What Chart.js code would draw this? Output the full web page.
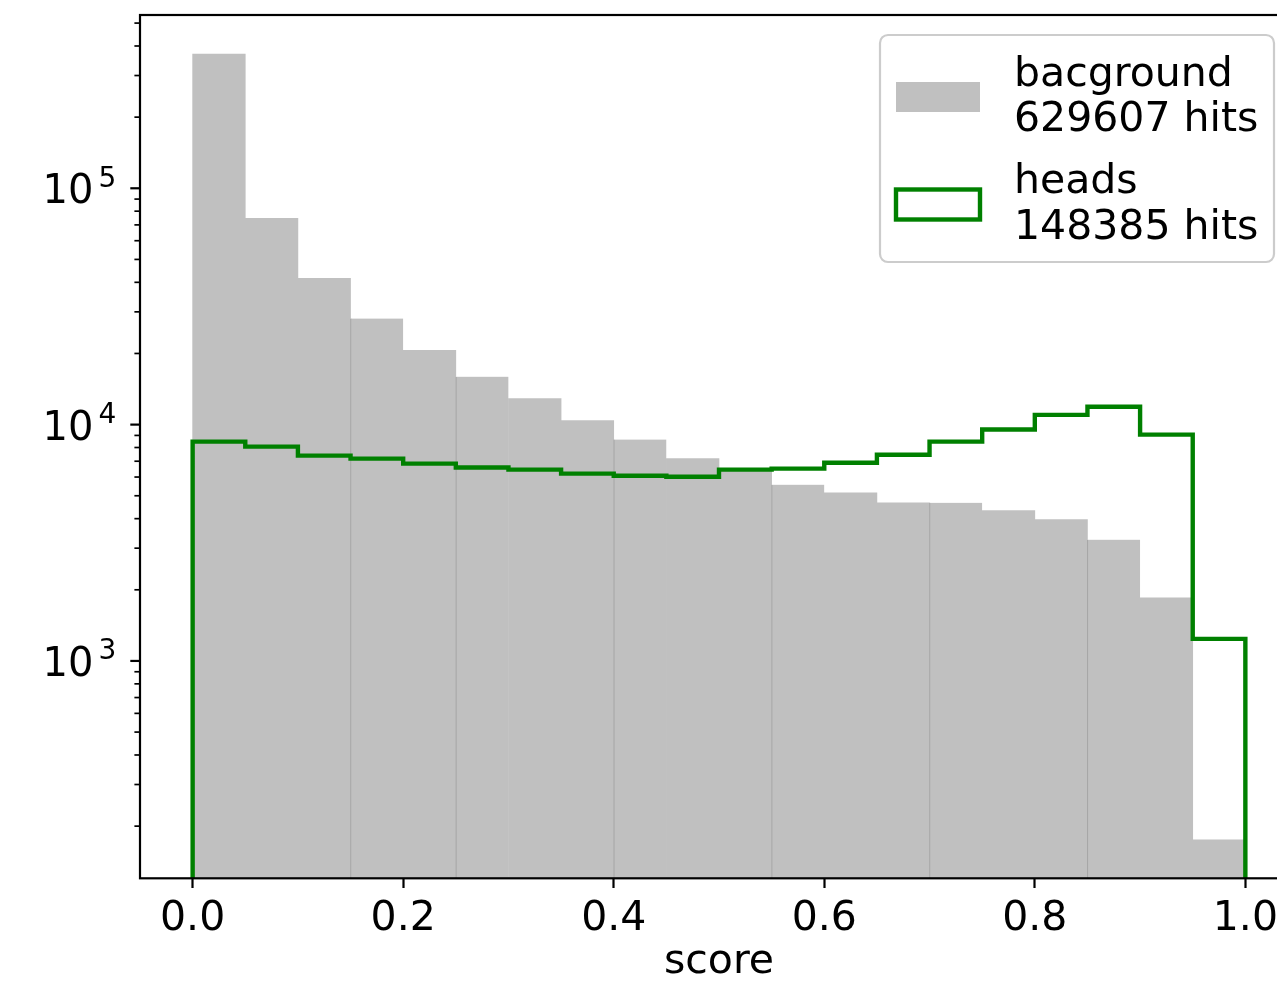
<!DOCTYPE html>
<html>
<head>
<meta charset="utf-8">
<title>score histogram</title>
<script src="https://cdn.jsdelivr.net/npm/chart.js@4.4.1/dist/chart.umd.min.js"></script>
<style>
  html, body { margin: 0; padding: 0; overflow: hidden; background: #ffffff; }
  #wrap { width: 1298px; height: 982px; }
</style>
</head>
<body>
<div id="wrap"><canvas id="chart" width="1298" height="982"></canvas></div>
<script>
// Histogram bins (score), 20 bins of width 0.05
const BIN_EDGES = [0.00, 0.05, 0.10, 0.15, 0.20, 0.25, 0.30, 0.35, 0.40, 0.45, 0.50,
                   0.55, 0.60, 0.65, 0.70, 0.75, 0.80, 0.85, 0.90, 0.95, 1.00];

// Counts per bin
const BACKGROUND = [370000, 74700, 41600, 28100, 20600, 15950, 12880, 10400, 8640, 7180,
                    6380, 5570, 5150, 4670, 4670, 4330, 3960, 3260, 1850, 175];
const HEADS = [8470, 8070, 7390, 7180, 6840, 6580, 6450, 6200, 6080, 6020,
               6450, 6510, 6900, 7460, 8470, 9530, 11000, 11900, 9070, 1240];

// Axis ticks and ranges
const X_TICKS = [0.0, 0.2, 0.4, 0.6, 0.8, 1.0];
const Y_DECADES = [3, 4, 5];
const X_RANGE = [-0.05, 1.05];
const Y_RANGE = [120.3, 541000];

// Legend entries
const LEGEND_LABELS = [["bacground", "629607 hits"], ["heads", "148385 hits"]];
const X_TITLE = "score";

const FONT = "DejaVu Sans";
const GRAY = "#c0c0c0";
const GREEN = "#008000";

// Bins whose left edge shows a faint seam between neighbouring bars
const SEAM_BINS = [3, 5, 8, 11, 14, 17];

const barPoints = BACKGROUND.map((v, i) => ({ x: (BIN_EDGES[i] + BIN_EDGES[i + 1]) / 2, y: v }));
const barBorders = BACKGROUND.map((v, i) =>
  SEAM_BINS.includes(i) ? { left: 1, right: 0, top: 0, bottom: 0 } : 0);

// Step outline: rise from the floor, flat across every bin, fall back at the end
const stepPoints = [{ x: BIN_EDGES[0], y: Y_RANGE[0] }];
HEADS.forEach((v, i) => {
  stepPoints.push({ x: BIN_EDGES[i], y: v });
  stepPoints.push({ x: BIN_EDGES[i + 1], y: v });
});
stepPoints.push({ x: BIN_EDGES[BIN_EDGES.length - 1], y: Y_RANGE[0] });

const axisDecor = {
  id: "axisDecor",
  afterDatasetsDraw(chart) {
    const ctx = chart.ctx;
    const area = chart.chartArea;
    const ys = chart.scales.y;
    ctx.save();

    // frame
    ctx.strokeStyle = "#000";
    ctx.lineWidth = 2.2;
    ctx.strokeRect(area.left, area.top, area.right - area.left, area.bottom - area.top);

    // log ticks: majors at decades, minors at 2..9 x decade
    const lo = Math.floor(Math.log10(Y_RANGE[0]));
    const hi = Math.ceil(Math.log10(Y_RANGE[1]));
    for (let e = lo; e <= hi; e++) {
      for (let m = 1; m <= 9; m++) {
        const v = m * Math.pow(10, e);
        if (v < Y_RANGE[0] || v > Y_RANGE[1]) continue;
        const py = ys.getPixelForValue(v);
        const major = m === 1;
        ctx.beginPath();
        ctx.lineWidth = major ? 2.2 : 1.7;
        ctx.moveTo(area.left, py);
        ctx.lineTo(area.left - (major ? 9.7 : 5.6), py);
        ctx.stroke();
      }
    }

    // decade labels: 10 with superscript exponent
    ctx.fillStyle = "#000";
    Y_DECADES.forEach(e => {
      const py = ys.getPixelForValue(Math.pow(10, e));
      ctx.font = "40px '" + FONT + "'";
      ctx.textAlign = "right";
      ctx.textBaseline = "alphabetic";
      ctx.fillText("10", 93.5, py + 15);
      ctx.font = "28px '" + FONT + "'";
      ctx.textAlign = "left";
      ctx.fillText(String(e), 98.5, py - 1.6);
    });
    ctx.restore();
  },
  afterDraw(chart) {
    const ctx = chart.ctx;
    ctx.save();
    // legend frame
    ctx.beginPath();
    ctx.roundRect(880, 35, 394, 227, 8);
    ctx.fillStyle = "rgba(255,255,255,0.8)";
    ctx.fill();
    ctx.lineWidth = 2.2;
    ctx.strokeStyle = "#cccccc";
    ctx.stroke();

    // handles
    ctx.fillStyle = GRAY;
    ctx.fillRect(896, 82, 84, 30);
    ctx.lineWidth = 4.4;
    ctx.strokeStyle = GREEN;
    ctx.lineJoin = "miter";
    ctx.strokeRect(896, 189.5, 84, 30);

    // labels
    ctx.fillStyle = "#000";
    ctx.font = "41px '" + FONT + "'";
    ctx.textAlign = "left";
    ctx.textBaseline = "alphabetic";
    const baselines = [[85.5, 131], [193, 238.5]];
    LEGEND_LABELS.forEach((lines, i) => {
      lines.forEach((t, j) => ctx.fillText(t, 1014, baselines[i][j]));
    });
    ctx.restore();
  }
};

new Chart(document.getElementById("chart"), {
  data: {
    datasets: [
      {
        type: "bar",
        label: LEGEND_LABELS[0].join(" "),
        data: barPoints,
        backgroundColor: GRAY,
        borderColor: "#9c9c9c",
        borderWidth: barBorders,
        borderSkipped: false,
        barPercentage: 1.0,
        categoryPercentage: 1.0,
        grouped: false,
        order: 2
      },
      {
        type: "line",
        label: LEGEND_LABELS[1].join(" "),
        data: stepPoints,
        borderColor: GREEN,
        borderWidth: 4.4,
        borderJoinStyle: "miter",
        borderCapStyle: "butt",
        pointRadius: 0,
        tension: 0,
        fill: false,
        clip: 0,
        order: 1
      }
    ]
  },
  options: {
    responsive: false,
    animation: false,
    devicePixelRatio: 1,
    layout: { padding: { top: 15, left: 0, right: 0, bottom: 0 } },
    plugins: {
      legend: { display: false },
      tooltip: { enabled: false }
    },
    scales: {
      x: {
        type: "linear",
        offset: false,
        min: X_RANGE[0],
        max: X_RANGE[1],
        afterBuildTicks: s => { s.ticks = X_TICKS.map(v => ({ value: v })); },
        afterFit: s => { s.height = 103.7; },
        ticks: {
          callback: v => Number(v).toFixed(1),
          font: { family: FONT, size: 41 },
          color: "#000",
          padding: 7,
          maxRotation: 0,
          autoSkip: false
        },
        grid: {
          display: true,
          offset: false,
          drawOnChartArea: false,
          drawTicks: true,
          tickLength: 9.7,
          tickWidth: 2.2,
          tickColor: "#000",
          color: "#000"
        },
        border: { display: false },
        title: {
          display: true,
          text: X_TITLE,
          color: "#000",
          font: { family: FONT, size: 41, lineHeight: 0.9 },
          padding: { top: 0, bottom: 0.9 }
        }
      },
      y: {
        type: "logarithmic",
        min: Y_RANGE[0],
        max: Y_RANGE[1],
        afterFit: s => { s.width = 140; },
        ticks: { display: false },
        grid: { display: false },
        border: { display: false }
      }
    }
  },
  plugins: [axisDecor]
});
</script>
</body>
</html>
